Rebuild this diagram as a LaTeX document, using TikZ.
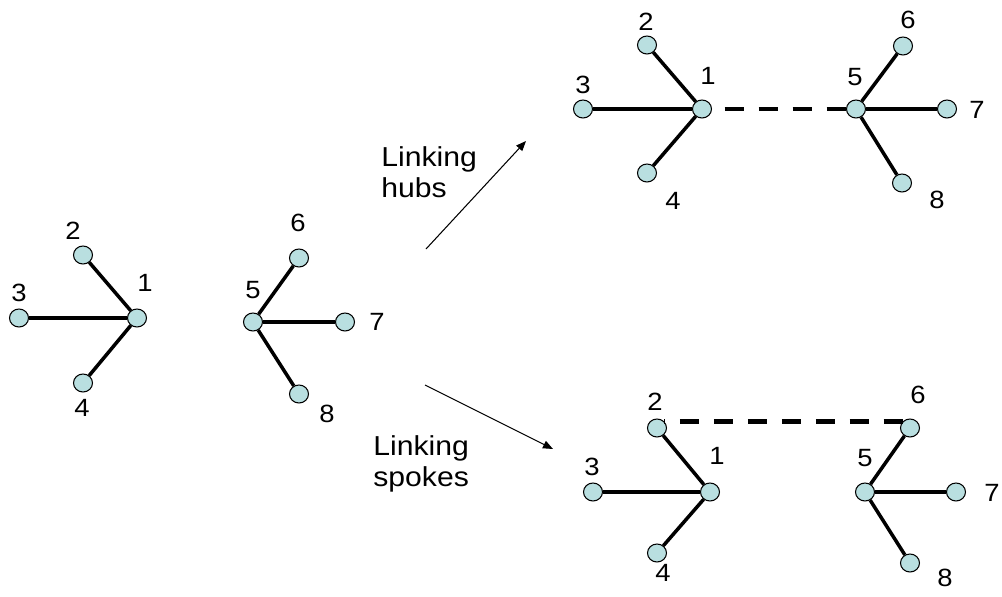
\documentclass[tikz,border=0pt]{standalone}
\usepackage{fontspec}
\usepackage{graphicx}
\setmainfont{Liberation Sans}
\usetikzlibrary{arrows.meta,shapes.geometric}
\definecolor{nodefill}{RGB}{185,223,224}
\newcommand{\sx}[1]{\scalebox{1.1}[1]{#1}}
\tikzset{
  vtx/.style={ellipse,draw=black,line width=0.6pt,fill=nodefill,minimum width=0.38cm,minimum height=0.36cm,inner sep=0pt},
  numtxt/.style={inner sep=0pt,font=\fontsize{14.2}{16}\selectfont},
  captxt/.style={inner sep=0pt,align=left,anchor=west,font=\fontsize{15.6}{17.8}\selectfont},
  spoke/.style={line width=2pt},
  linkline/.style={line width=2.6pt,dash pattern=on 0.38cm off 0.30cm},
  arrline/.style={line width=0.6pt,-{Triangle[length=0.2cm,width=0.16cm]}}
}
\begin{document}
\begin{tikzpicture}[x=0.02cm,y=-0.02cm]
\useasboundingbox (0,0) rectangle (1002,596);
% left star 1
\node[vtx] (a1) at (137,318) {};
\node[vtx] (a2) at (83,255) {};
\node[vtx] (a3) at (19,318) {};
\node[vtx] (a4) at (83,383) {};
\node[numtxt] (la1) at (145,283) {\sx{1}};
\node[numtxt] (la2) at (73,231) {\sx{2}};
\node[numtxt] (la3) at (19,293) {\sx{3}};
\node[numtxt] (la4) at (82,408) {\sx{4}};
\draw[spoke] (a1) -- (a2);
\draw[spoke] (a1) -- (a3);
\draw[spoke] (a1) -- (a4);
% left star 2
\node[vtx] (a5) at (253,322) {};
\node[vtx] (a6) at (299,258) {};
\node[vtx] (a7) at (345,322) {};
\node[vtx] (a8) at (299,394) {};
\node[numtxt] (la5) at (253,290) {\sx{5}};
\node[numtxt] (la6) at (298,223) {\sx{6}};
\node[numtxt] (la7) at (377,322) {\sx{7}};
\node[numtxt] (la8) at (327,414) {\sx{8}};
\draw[spoke] (a5) -- (a6);
\draw[spoke] (a5) -- (a7);
\draw[spoke] (a5) -- (a8);
% arrows and captions
\coordinate (h0) at (426,249);
\coordinate (h1) at (526,141);
\coordinate (s0) at (425,385);
\coordinate (s1) at (553,449);
\draw[arrline] (h0) -- (h1);
\draw[arrline] (s0) -- (s1);
\node[captxt] (ch) at (381,172) {\sx{Linking}\\\sx{hubs}};
\node[captxt] (cs) at (373,464) {\sx{Linking}\\\sx{spokes}};
% top right: linking hubs
\node[vtx] (t1) at (702,109) {};
\node[vtx] (t2) at (647,45) {};
\node[vtx] (t3) at (583,109) {};
\node[vtx] (t4) at (647,173) {};
\node[vtx] (t5) at (856,109) {};
\node[vtx] (t6) at (903,46) {};
\node[vtx] (t7) at (947,109) {};
\node[vtx] (t8) at (902,183) {};
\node[numtxt] (lt1) at (708,76) {\sx{1}};
\node[numtxt] (lt2) at (646,22) {\sx{2}};
\node[numtxt] (lt3) at (583,85) {\sx{3}};
\node[numtxt] (lt4) at (673,201) {\sx{4}};
\node[numtxt] (lt5) at (855,77) {\sx{5}};
\node[numtxt] (lt6) at (908,20) {\sx{6}};
\node[numtxt] (lt7) at (977,110) {\sx{7}};
\node[numtxt] (lt8) at (937,200) {\sx{8}};
\draw[spoke] (t1) -- (t2);
\draw[spoke] (t1) -- (t3);
\draw[spoke] (t1) -- (t4);
\draw[spoke] (t5) -- (t6);
\draw[spoke] (t5) -- (t7);
\draw[spoke] (t5) -- (t8);
\draw[linkline,dash phase=0.43cm] (t1) -- (t5);
% bottom right: linking spokes
\node[vtx] (b1) at (710,492) {};
\node[vtx] (b2) at (657,428) {};
\node[vtx] (b3) at (593,492) {};
\node[vtx] (b4) at (657,553) {};
\node[vtx] (b5) at (865,492) {};
\node[vtx] (b6) at (910,428) {};
\node[vtx] (b7) at (956,492) {};
\node[vtx] (b8) at (910,563) {};
\node[numtxt] (lb1) at (717,456) {\sx{1}};
\node[numtxt] (lb2) at (655,402) {\sx{2}};
\node[numtxt] (lb3) at (592,467) {\sx{3}};
\node[numtxt] (lb4) at (663,573) {\sx{4}};
\node[numtxt] (lb5) at (865,458) {\sx{5}};
\node[numtxt] (lb6) at (918,395) {\sx{6}};
\node[numtxt] (lb7) at (992,493) {\sx{7}};
\node[numtxt] (lb8) at (945,578) {\sx{8}};
\draw[spoke] (b1) -- (b2);
\draw[spoke] (b1) -- (b3);
\draw[spoke] (b1) -- (b4);
\draw[spoke] (b5) -- (b6);
\draw[spoke] (b5) -- (b7);
\draw[spoke] (b5) -- (b8);
\draw[linkline,dash phase=0.37cm] (b2.42) -- (b6.138);
\end{tikzpicture}
\end{document}
